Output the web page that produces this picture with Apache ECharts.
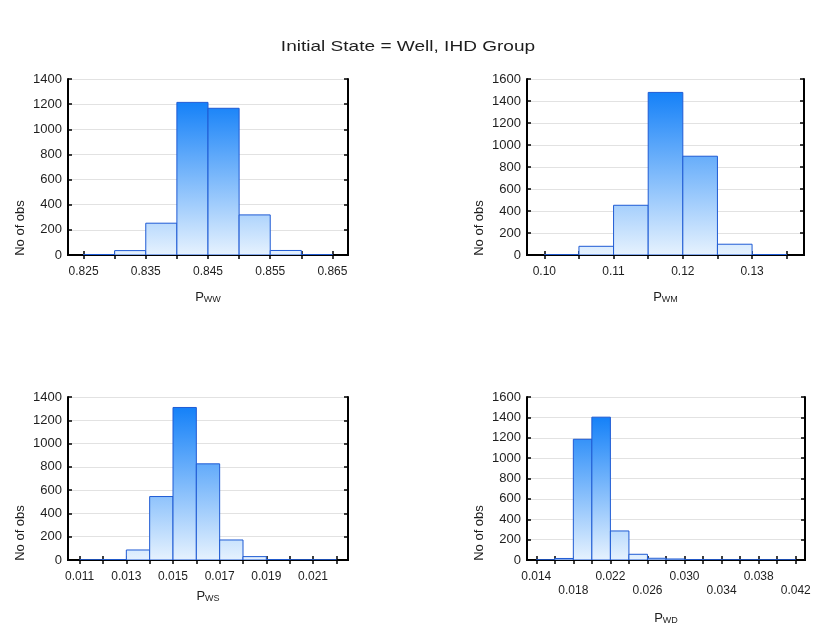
<!DOCTYPE html>
<html>
<head>
<meta charset="utf-8">
<script src="https://cdn.jsdelivr.net/npm/echarts@6/dist/echarts.min.js"></script>
<style>
  html, body { margin: 0; padding: 0; background: #fff; }
  #chart { width: 816px; height: 633px; }
</style>
</head>
<body>
<div id="chart"></div>
<script>
// Bootstrap histograms of the transition probabilities from state "Well".
// Each list of bins holds the left edge of every bin; counts are the bar heights.
const titleText = 'Initial State = Well, IHD Group';
const yName = 'No of obs';

// P_WW
const wwBins   = [0.825, 0.830, 0.835, 0.840, 0.845, 0.850, 0.855, 0.860];
const wwCounts = [4, 35, 253, 1214, 1167, 319, 36, 3];
const wwTicks  = [0.825, 0.830, 0.835, 0.840, 0.845, 0.850, 0.855, 0.860, 0.865];
const wwLabels = [0.825, 0.835, 0.845, 0.855, 0.865];

// P_WM
const wmBins   = [0.100, 0.105, 0.110, 0.115, 0.120, 0.125, 0.130];
const wmCounts = [3, 79, 452, 1478, 898, 98, 4];
const wmTicks  = [0.100, 0.105, 0.110, 0.115, 0.120, 0.125, 0.130, 0.135];
const wmLabels = [0.10, 0.11, 0.12, 0.13];

// P_WS
const wsBins   = [0.011, 0.012, 0.013, 0.014, 0.015, 0.016, 0.017, 0.018, 0.019, 0.020, 0.021];
const wsCounts = [1, 3, 86, 545, 1310, 826, 172, 29, 3, 1, 1];
const wsTicks  = [0.011, 0.012, 0.013, 0.014, 0.015, 0.016, 0.017, 0.018, 0.019, 0.020, 0.021, 0.022];
const wsLabels = [0.011, 0.013, 0.015, 0.017, 0.019, 0.021];

// P_WD
const wdBins   = [0.014, 0.016, 0.018, 0.020, 0.022, 0.024, 0.026, 0.028, 0.030, 0.032, 0.034, 0.036, 0.038, 0.040];
const wdCounts = [1, 15, 1185, 1402, 285, 56, 17, 10, 3, 2, 1, 1, 1, 1];
const wdTicks  = [0.014, 0.016, 0.018, 0.020, 0.022, 0.024, 0.026, 0.028, 0.030, 0.032, 0.034, 0.036, 0.038, 0.040, 0.042];
const wdLabels = [0.014, 0.018, 0.022, 0.026, 0.030, 0.034, 0.038, 0.042];

const FONT = '"Liberation Sans", Arial, sans-serif';
const TEXT = '#1e1e1e';

const panels = [
  { sub: 'WW', bins: wwBins, counts: wwCounts, width: 0.005, xMin: 0.8225, xMax: 0.8675,
    ticks: wwTicks, labels: wwLabels, digits: 3, yMax: 1400, nameGap: 34,
    grid: { left: 68, top: 79, width: 280, height: 176 } },
  { sub: 'WM', bins: wmBins, counts: wmCounts, width: 0.005, xMin: 0.0975, xMax: 0.1375,
    ticks: wmTicks, labels: wmLabels, digits: 2, yMax: 1600, nameGap: 34,
    grid: { left: 527, top: 79, width: 277, height: 176 } },
  { sub: 'WS', bins: wsBins, counts: wsCounts, width: 0.001, xMin: 0.0105, xMax: 0.0225,
    ticks: wsTicks, labels: wsLabels, digits: 3, yMax: 1400, nameGap: 28,
    grid: { left: 68, top: 397, width: 280, height: 163 } },
  { sub: 'WD', bins: wdBins, counts: wdCounts, width: 0.002, xMin: 0.013, xMax: 0.043,
    ticks: wdTicks, labels: wdLabels, digits: 3, yMax: 1600, nameGap: 50, stagger: true,
    grid: { left: 527, top: 397, width: 278, height: 163 } }
];

const frameLine = { show: true, lineStyle: { color: '#000', width: 2 } };
const innerTick = (vals) => ({
  show: true, inside: true, length: 4,
  lineStyle: { color: '#000', width: 1.5 },
  customValues: vals
});

function histItem(binWidth, peak) {
  return function (params, api) {
    const x0 = api.value(0);
    const n = api.value(1);
    const base = api.coord([x0, 0]);
    const tip = api.coord([x0 + binWidth, n]);
    const peakPt = api.coord([x0, peak]);
    return {
      type: 'rect',
      shape: { x: base[0], y: tip[1], width: tip[0] - base[0], height: base[1] - tip[1] },
      style: {
        fill: new echarts.graphic.LinearGradient(0, base[1], 0, peakPt[1], [
          { offset: 0, color: '#e6f2fe' },
          { offset: 1, color: '#1581f8' }
        ], true),
        stroke: '#1f5bd4',
        lineWidth: 1
      }
    };
  };
}

const grid = [], xAxis = [], yAxis = [], series = [], graphic = [];

graphic.push({
  type: 'text', x: 408, y: 47, scaleX: 1.27,
  style: { text: titleText, font: '15px ' + FONT, fill: TEXT, align: 'center', verticalAlign: 'middle' }
});

panels.forEach((p, i) => {
  grid.push(Object.assign({ containLabel: false }, p.grid));

  const fmt = (v) => {
    const s = Number(v).toFixed(p.digits);
    if (!p.stagger) return s;
    const k = p.labels.findIndex((t) => Math.abs(t - v) < 1e-9);
    return k % 2 === 1 ? '\n' + s : s;
  };

  // bottom axis with labels and the axis name
  xAxis.push({
    gridIndex: i, type: 'value', position: 'bottom',
    min: p.xMin, max: p.xMax,
    axisLine: frameLine,
    axisTick: innerTick(p.ticks),
    axisLabel: {
      customValues: p.labels, formatter: fmt, margin: 10,
      color: TEXT, fontSize: 12, fontFamily: FONT, lineHeight: 14
    },
    splitLine: { show: false },
    name: '{p|P}{s|' + p.sub + '}',
    nameLocation: 'middle', nameGap: p.nameGap,
    nameTextStyle: {
      color: TEXT, fontFamily: FONT,
      rich: {
        p: { fontSize: 13, fontFamily: FONT, color: TEXT, verticalAlign: 'bottom', lineHeight: 15 },
        s: { fontSize: 9, fontFamily: FONT, color: TEXT, verticalAlign: 'bottom', lineHeight: 11 }
      }
    }
  });
  // top edge: ticks only
  xAxis.push({
    gridIndex: i, type: 'value', position: 'top',
    min: p.xMin, max: p.xMax,
    axisLine: frameLine,
    axisTick: innerTick(p.ticks),
    axisLabel: { show: false },
    splitLine: { show: false }
  });

  yAxis.push({
    gridIndex: i, type: 'value', position: 'left',
    min: 0, max: p.yMax, interval: 200,
    axisLine: frameLine,
    axisTick: { show: true, inside: true, length: 4, lineStyle: { color: '#000', width: 1.5 } },
    axisLabel: { color: TEXT, fontSize: 13, fontFamily: FONT, margin: 6, formatter: (v) => String(v) },
    splitLine: { show: true, lineStyle: { color: '#e2e2e2', width: 1 } }
  });
  yAxis.push({
    gridIndex: i, type: 'value', position: 'right',
    min: 0, max: p.yMax, interval: 200,
    axisLine: frameLine,
    axisTick: { show: true, inside: true, length: 4, lineStyle: { color: '#000', width: 1.5 } },
    axisLabel: { show: false },
    splitLine: { show: false }
  });

  series.push({
    type: 'custom',
    xAxisIndex: i * 2, yAxisIndex: i * 2,
    renderItem: histItem(p.width, Math.max.apply(null, p.counts)),
    encode: { x: 0, y: 1 },
    clip: true,
    data: p.bins.map((b, k) => [b, p.counts[k]])
  });

  // rotated y-axis title, reading bottom to top
  const g = p.grid;
  graphic.push({
    type: 'text',
    x: g.left - 48, y: g.top + g.height - 27,
    rotation: Math.PI / 2,
    style: { text: yName, font: '13px ' + FONT, fill: TEXT, align: 'center', verticalAlign: 'middle' }
  });
});

const chart = echarts.init(document.getElementById('chart'), null, { renderer: 'canvas' });
chart.setOption({
  animation: false,
  backgroundColor: '#fff',
  grid, xAxis, yAxis, series, graphic
});
</script>
</body>
</html>
